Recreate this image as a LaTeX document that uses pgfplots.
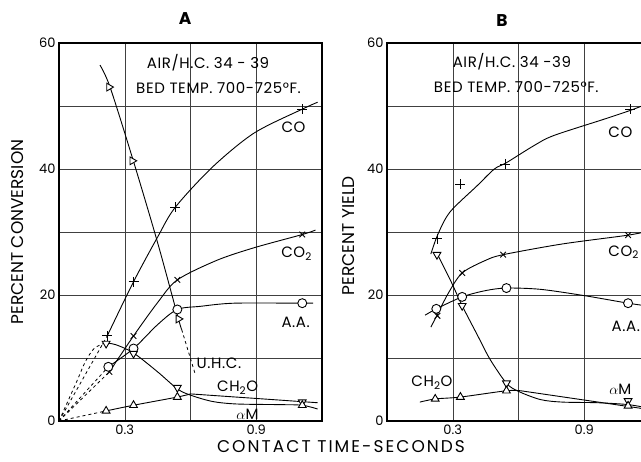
\documentclass[border=0pt]{standalone}
\usepackage{pgfplots}
\pgfplotsset{compat=1.18}
\usepackage{fontspec}
\setmainfont{Poppins}
\newfontfamily\spfont[LetterSpace=4]{Poppins}
\newfontfamily\spxfont[LetterSpace=12]{Poppins}

\newcommand{\lbl}{\spfont\fontsize{15}{17}\selectfont}
\newcommand{\axl}{\fontsize{17}{19}\selectfont}
\newcommand{\CHO}{CH\textsubscript{2}O}

\pgfplotsset{
  panel/.style={
    scale only axis, width=263pt, height=378pt,
    xmin=0, xmax=1.2, ymin=0, ymax=60,
    xtick={0.3,0.6,0.9}, xticklabels={0.3,,0.9},
    ytick={0,10,...,60}, yticklabels={0,,20,,40,,60},
    major tick length=0pt,
    grid=major, major grid style={black!75, line width=0.5pt},
    axis line style={line width=1.3pt},
    tick label style={font=\fontsize{13}{15}\selectfont},
    /pgf/number format/assume math mode=true,
    clip=false,
  },
  cv/.style={black, line width=0.9pt, smooth, no marks},
  ln/.style={black, line width=0.9pt, no marks},
  dsh/.style={black, line width=0.8pt, dashed, no marks},
  mplus/.style={black, only marks, mark=+, mark size=5pt, line width=0.9pt},
  mcross/.style={black, only marks, mark=x, mark size=4pt, line width=0.9pt},
  mcirc/.style={black, only marks, mark=*, mark size=4.5pt, line width=0.9pt, mark options={fill=white}},
  mright/.style={black, only marks, mark=triangle*, mark size=4.5pt, line width=0.9pt, mark options={fill=white, rotate=-90}},
  mdown/.style={black, only marks, mark=triangle*, mark size=4.5pt, line width=0.9pt, mark options={fill=white, rotate=180}},
  mup/.style={black, only marks, mark=triangle*, mark size=4.5pt, line width=0.9pt, mark options={fill=white}},
}

\begin{document}
\begin{tikzpicture}
\path[use as bounding box] (0pt,0pt) rectangle (641pt,462pt);
\clip (0pt,0pt) rectangle (641pt,462pt);

% ---------------- panel A
\begin{axis}[panel, at={(59pt,41pt)}, anchor=south west]
% dashed lines from the origin
\addplot[dsh] coordinates {(0,0)(0.22,13.5)};
\addplot[dsh, smooth] coordinates {(0,0)(0.08,6.2)(0.12,9.4)(0.16,11.5)(0.21,12.4)};
\addplot[dsh] coordinates {(0,0)(0.225,8.6)};
\addplot[dsh] coordinates {(0,0)(0.23,7.8)};
\addplot[dsh] coordinates {(0,0)(0.215,1.6)};
% CO
\addplot[cv] coordinates {(0.22,13.5)(0.34,22.1)(0.45,29.2)(0.53,33.9)(0.70,40.3)(0.89,45.7)(1.11,49.5)(1.18,50.6)};
% CO2
\addplot[cv] coordinates {(0.23,7.8)(0.34,13.5)(0.45,18.8)(0.54,22.4)(0.72,25.5)(0.89,27.5)(1.11,29.6)(1.17,30.3)};
% A.A.
\addplot[cv] coordinates {(0.225,8.6)(0.34,11.5)(0.45,15.3)(0.54,17.7)(0.645,18.2)(0.8,18.7)(1.11,18.7)(1.16,18.7)};
% U.H.C.
\addplot[cv] coordinates {(0.187,56.5)(0.233,53)(0.34,41.2)(0.45,28.3)(0.545,16.2)(0.56,14.5)};
\addplot[dsh] coordinates {(0.56,14.5)(0.62,7.6)};
% CH2O / alpha M
\addplot[cv] coordinates {(0.21,12.4)(0.26,12.1)(0.34,10.8)(0.45,7.8)(0.54,5.1)(0.6,4.1)(0.7,3.1)(0.81,2.7)(1.0,2.6)(1.11,2.5)(1.18,1.9)};
\addplot[cv] coordinates {(0.215,1.6)(0.34,2.5)(0.54,3.8)(0.6,4.3)};
\addplot[ln] coordinates {(0.6,4.3)(1.18,2.9)};
% marks
\addplot[mplus] coordinates {(0.22,13.5)(0.34,22.1)(0.53,33.9)(1.11,49.5)};
\addplot[mcross] coordinates {(0.23,7.8)(0.34,13.5)(0.54,22.4)(1.11,29.6)};
\addplot[mcirc] coordinates {(0.225,8.6)(0.34,11.5)(0.54,17.7)(1.11,18.7)};
\addplot[mright] coordinates {(0.228,53)(0.334,41.3)(0.545,16.2)};
\addplot[mdown] coordinates {(0.215,12.3)(0.34,10.7)(0.54,5.3)(1.11,3.0)};
\addplot[mup] coordinates {(0.215,1.6)(0.34,2.5)(0.54,3.8)(1.11,2.5)};
% labels
\node[font=\lbl] at (axis cs:0.68,56.8) {AIR/H.C. 34 - 39};
\node[font=\lbl] at (axis cs:0.728,52.8) {BED TEMP. 700-725°F.};
\node[font=\lbl] at (axis cs:1.07,46.6) {CO};
\node[font=\lbl] at (axis cs:1.084,26.6) {CO\textsubscript{2}};
\node[font=\lbl] at (axis cs:1.08,15.6) {A.A.};
\node[font=\lbl] at (axis cs:0.73,9.2) {U.H.C.};
\node[font=\lbl] at (axis cs:0.815,5.3) {\CHO};
\node[font=\lbl] at (axis cs:0.86,1.0) {$\alpha$M};
\node[font=\axl\bfseries] at (rel axis cs:0.48,1.065) {A};
\node[font=\axl, rotate=90] at (rel axis cs:-0.156,0.5) {PERCENT CONVERSION};
\end{axis}

% ---------------- panel B
\begin{axis}[panel, at={(387pt,41pt)}, anchor=south west]
% CO
\addplot[cv] coordinates {(0.2,26.5)(0.233,29.7)(0.288,33.2)(0.41,37.3)(0.49,40)(0.545,41.0)(0.67,43.7)(0.76,45.3)(0.99,47.9)(1.11,49.3)(1.2,50.5)};
% CO2
\addplot[cv] coordinates {(0.2,14.9)(0.23,16.9)(0.28,20.3)(0.343,23.5)(0.45,25.5)(0.53,26.4)(0.8,28.1)(1.1,29.5)(1.2,30.2)};
% A.A.
\addplot[cv] coordinates {(0.174,16.8)(0.225,17.8)(0.343,19.7)(0.45,20.7)(0.545,21.1)(0.7,20.9)(0.9,19.9)(1.1,18.7)(1.2,18.2)};
% falling curve
\addplot[cv] coordinates {(0.228,26.6)(0.29,22.3)(0.343,18.3)(0.41,13.8)(0.47,9.8)(0.545,6.0)(0.6,4.7)(0.7,3.4)(0.8,3.0)(0.96,2.9)(1.1,2.6)(1.2,2.0)};
% lower rising curve
\addplot[cv] coordinates {(0.15,3.0)(0.22,3.5)(0.335,3.8)(0.545,4.8)(0.61,4.8)};
\addplot[ln] coordinates {(0.61,4.8)(1.2,1.8)};
% marks
\addplot[mplus] coordinates {(0.23,28.9)(0.335,37.6)(0.54,40.8)(1.11,49.5)};
\addplot[mcross] coordinates {(0.23,16.7)(0.343,23.5)(0.53,26.4)(1.10,29.5)};
\addplot[mcirc] coordinates {(0.225,17.8)(0.343,19.7)(0.545,21.1)(1.10,18.7)};
\addplot[mdown] coordinates {(0.228,26.4)(0.343,18.3)(0.545,6.0)(1.10,3.2)};
\addplot[mup] coordinates {(0.22,3.5)(0.335,3.8)(0.545,4.8)(1.10,2.4)};
% labels
\node[font=\lbl] at (axis cs:0.57,57) {AIR/H.C. 34 -39};
\node[font=\lbl] at (axis cs:0.59,53) {BED TEMP. 700-725°F.};
\node[font=\lbl] at (axis cs:1.065,45.9) {CO};
\node[font=\lbl] at (axis cs:1.08,26.8) {CO\textsubscript{2}};
\node[font=\lbl] at (axis cs:1.09,15.1) {A.A.};
\node[font=\lbl] at (axis cs:0.205,6.1) {\CHO};
\node[font=\lbl] at (axis cs:1.065,5.0) {$\alpha$M};
\node[font=\axl\bfseries] at (rel axis cs:0.437,1.06) {B};
\node[font=\axl, rotate=90] at (rel axis cs:-0.148,0.49) {PERCENT YIELD};
\end{axis}

\node[font=\spxfont\fontsize{17}{19}\selectfont] at (341pt,15pt) {CONTACT TIME-SECONDS};
\end{tikzpicture}
\end{document}
